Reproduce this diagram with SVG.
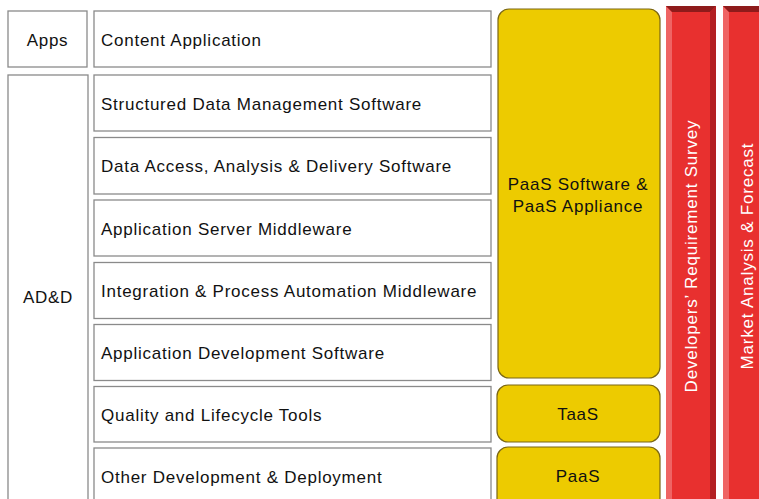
<svg xmlns="http://www.w3.org/2000/svg" width="759" height="499" viewBox="0 0 759 499">
<style>
.box{fill:#fff;stroke:#8a8a8a;stroke-width:1.3}
.y{fill:#EDCB00;stroke:#7a6614;stroke-width:1.2}
.t{font-family:"Liberation Sans",Arial,sans-serif;font-size:17px;fill:#111;letter-spacing:0.75px}
.w{font-family:"Liberation Sans",Arial,sans-serif;font-size:17px;fill:#fff;letter-spacing:0.8px}
.face{fill:#E8302F}
.bt{fill:#8E1B1B}
.bl{fill:#EF6464}
.br{fill:#B31F22}
</style>
<rect width="759" height="499" fill="#fff"/>
<g id="apps"><rect class="box" x="8" y="11" width="79" height="56"/><text class="t" x="47.5" y="46" text-anchor="middle">Apps</text></g>
<g id="add"><rect class="box" x="8" y="75" width="80" height="440"/><text class="t" x="48" y="303" text-anchor="middle">AD&amp;D</text></g>
<g id="content"><rect class="box" x="94" y="11" width="397" height="56"/><text class="t" x="101" y="46">Content Application</text></g>
<g id="structured"><rect class="box" x="94" y="75" width="397" height="56"/><text class="t" x="101" y="110">Structured Data Management Software</text></g>
<g id="dataaccess"><rect class="box" x="94" y="137.5" width="397" height="56.5"/><text class="t" x="101" y="172">Data Access, Analysis &amp; Delivery Software</text></g>
<g id="appserver"><rect class="box" x="94" y="200" width="397" height="56"/><text class="t" x="101" y="235">Application Server Middleware</text></g>
<g id="integration"><rect class="box" x="94" y="262.5" width="397" height="56"/><text class="t" x="101" y="297">Integration &amp; Process Automation Middleware</text></g>
<g id="appdev"><rect class="box" x="94" y="324.5" width="397" height="56"/><text class="t" x="101" y="359">Application Development Software</text></g>
<g id="quality"><rect class="box" x="94" y="386.5" width="397" height="55.5"/><text class="t" x="101" y="421">Quality and Lifecycle Tools</text></g>
<g id="other"><rect class="box" x="94" y="448" width="397" height="60"/><text class="t" x="101" y="483">Other Development &amp; Deployment</text></g>
<g id="paas-sw"><rect class="y" x="498" y="9" width="162" height="369" rx="11"/><text class="t" x="578" y="190" text-anchor="middle">PaaS Software &amp;</text><text class="t" x="578" y="212" text-anchor="middle">PaaS Appliance</text></g>
<g id="taas"><rect class="y" x="497" y="385" width="163" height="57" rx="11"/><text class="t" x="578" y="420" text-anchor="middle">TaaS</text></g>
<g id="paas"><rect class="y" x="497" y="447" width="163" height="70" rx="11"/><text class="t" x="578" y="482" text-anchor="middle">PaaS</text></g>
<g id="dev-survey">
<rect class="face" x="666" y="6" width="50" height="500"/>
<polygon class="bl" points="666,6 672,12 672,506 666,506"/>
<polygon class="br" points="716,6 710,12 710,506 716,506"/>
<polygon class="bt" points="666,6 716,6 710,12 672,12"/>
<text class="w" transform="translate(697,256) rotate(-90)" text-anchor="middle">Developers’ Requirement Survey</text>
</g>
<g id="market">
<rect class="face" x="723" y="6" width="50" height="500"/>
<polygon class="bl" points="723,6 729,12 729,506 723,506"/>
<polygon class="bt" points="723,6 773,6 767,12 729,12"/>
<text class="w" transform="translate(753,256) rotate(-90)" text-anchor="middle">Market Analysis &amp; Forecast</text>
</g>
<g id="connectors"></g>
</svg>
